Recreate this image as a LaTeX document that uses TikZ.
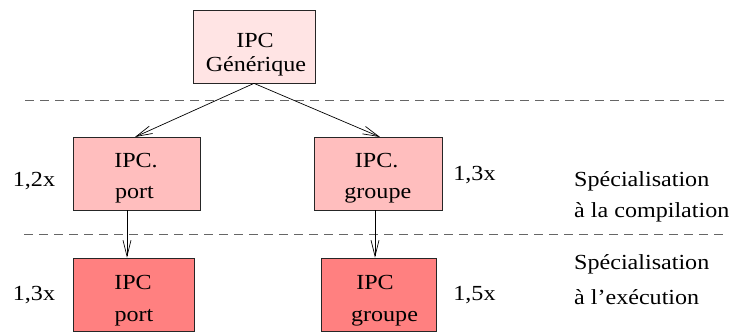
\documentclass[tikz,border=0pt]{standalone}
\usepackage{fontspec}
\usepackage{graphicx}
\setmainfont{Liberation Serif}
\usetikzlibrary{arrows.meta}
\newcommand\wtxt[1]{\scalebox{1.12}[1]{#1}}
\definecolor{genfill}{RGB}{255,228,228}
\definecolor{compfill}{RGB}{255,190,190}
\definecolor{execfill}{RGB}{255,128,128}
\tikzset{
  ipcbox/.style={draw=black!85, line width=0.7pt, minimum height=73pt, inner sep=0pt},
  txt/.style={inner sep=0pt, anchor=base, font=\fontsize{21.5}{24}\selectfont},
  sidetxt/.style={inner sep=0pt, anchor=base west, font=\fontsize{21.5}{24}\selectfont},
  separator/.style={draw=black!60, line width=0.8pt, dash pattern=on 9pt off 6pt},
  flow/.style={draw=black, line width=0.7pt, -{Straight Barb[length=16pt,width=8pt]}}
}
\begin{document}
\begin{tikzpicture}[x=1pt,y=-1pt]
\useasboundingbox (0,0) rectangle (730,333);

% boxes
\node[ipcbox, fill=genfill,  minimum width=122pt] (gen)  at (254,46.5) {};
\node[ipcbox, fill=compfill, minimum width=127pt] (cport) at (136.5,173.5) {};
\node[ipcbox, fill=compfill, minimum width=128pt] (cgrp)  at (378,173.5) {};
\node[ipcbox, fill=execfill, minimum width=121pt] (eport) at (133.5,294.5) {};
\node[ipcbox, fill=execfill, minimum width=115pt] (egrp)  at (378.5,294.5) {};

% box texts
\node[txt] (gen1) at (255,47) {\wtxt{IPC}};
\node[txt] (gen2) at (256,71) {\wtxt{Générique}};
\node[txt] (cp1) at (136,167) {\wtxt{IPC.}};
\node[txt] (cp2) at (134.5,198) {\wtxt{port}};
\node[txt] (cg1) at (376.7,167) {\wtxt{IPC.}};
\node[txt] (cg2) at (377.8,198) {\wtxt{groupe}};
\node[txt] (ep1) at (133,289) {\wtxt{IPC}};
\node[txt] (ep2) at (134,321) {\wtxt{port}};
\node[txt] (eg1) at (375,289) {\wtxt{IPC}};
\node[txt] (eg2) at (384.5,321) {\wtxt{groupe}};

% speed-up factors
\node[txt] (f1) at (34,186) {\wtxt{1,2x}};
\node[txt] (f2) at (474.5,180) {\wtxt{1,3x}};
\node[txt] (f3) at (34,300) {\wtxt{1,3x}};
\node[txt] (f4) at (474.5,300) {\wtxt{1,5x}};

% stage labels
\node[sidetxt] (s1) at (574,186) {\wtxt{Spécialisation}};
\node[sidetxt] (s2) at (574,217) {\wtxt{à la compilation}};
\node[sidetxt] (s3) at (574,269) {\wtxt{Spécialisation}};
\node[sidetxt] (s4) at (574,304) {\wtxt{à l’exécution}};

% stage separators
\coordinate (d1a) at (25,100);  \coordinate (d1b) at (727,100);
\coordinate (d2a) at (24,234);  \coordinate (d2b) at (727,234);
\draw[separator] (d1a) -- (d1b);
\draw[separator] (d2a) -- (d2b);

% specialisation arrows
\coordinate (cportin) at (135,137);
\coordinate (cgrpin) at (380,137);
\draw[flow] (gen.south) -- (cportin);
\draw[flow] (gen.south) -- (cgrpin);
\draw[flow] (cport.south -| 127,0) -- (eport.north -| 127,0);
\draw[flow] (cgrp.south -| 375,0) -- (egrp.north -| 375,0);
\end{tikzpicture}
\end{document}
